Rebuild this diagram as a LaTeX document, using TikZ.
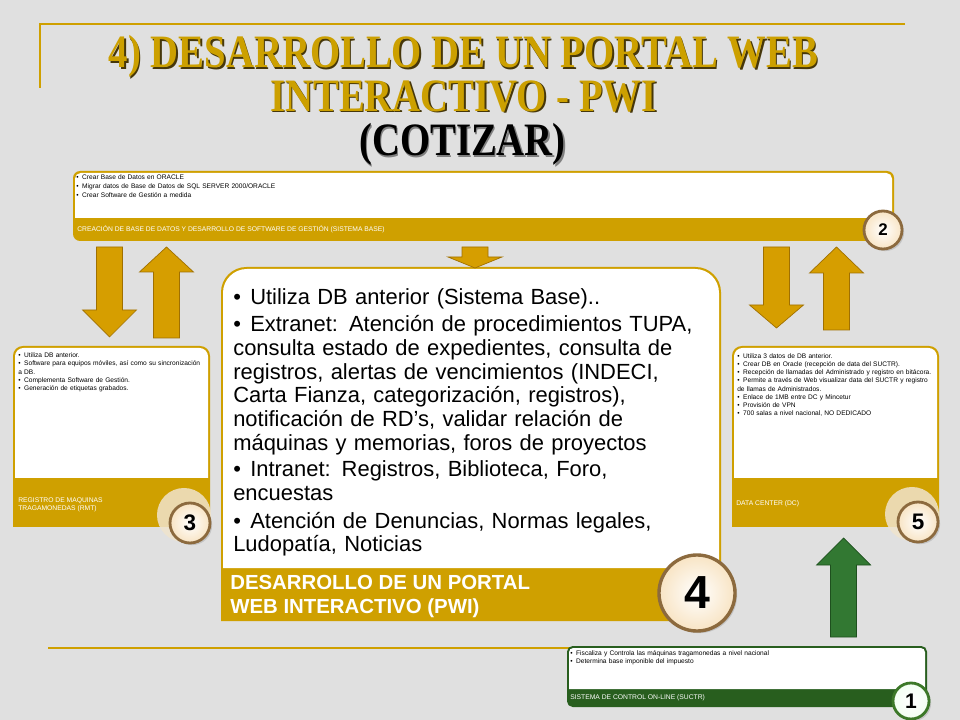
\documentclass[tikz,border=0pt]{standalone}
\usepackage{fontspec}
\setmainfont{Liberation Sans}
\newfontfamily\titlefont{Liberation Serif}
\usetikzlibrary{shadows}

\definecolor{bgray}{RGB}{224,224,224}
\definecolor{gold}{RGB}{207,160,0}
\definecolor{titlegold}{RGB}{204,160,0}
\definecolor{titleshadow}{RGB}{70,55,10}
\definecolor{ringbrown}{RGB}{140,106,62}
\definecolor{ringfill}{RGB}{248,228,196}
\definecolor{halofill}{RGB}{240,228,205}
\definecolor{darkgreen}{RGB}{40,94,30}
\definecolor{ringgreen}{RGB}{60,120,40}
\definecolor{arrowlight}{RGB}{252,204,20}
\definecolor{arrowdark}{RGB}{214,158,0}
\definecolor{arrowedge}{RGB}{160,112,0}
\definecolor{greenlight}{RGB}{96,180,90}
\definecolor{greendark}{RGB}{50,120,50}
\definecolor{greenedge}{RGB}{30,80,30}

\newlength\bulind
\newcommand{\pitem}[1]{\noindent\hangindent=\bulind\hangafter=1\makebox[\bulind][l]{\textbullet}#1\par}
\newcommand{\blockarrow}[5][]{%
  \draw[#1] (#2-13,#3) -- (#2-13,#4) -- (#2-27,#4) -- (#2,#5)
    -- (#2+27,#4) -- (#2+13,#4) -- (#2+13,#3) -- cycle;}

\begin{document}
\begin{tikzpicture}[x=0.025cm, y=-0.025cm,
  goldarrow/.style={left color=arrowdark, middle color=arrowlight, right color=arrowdark, draw=arrowedge, line width=0.5pt},
  greenarrow/.style={left color=greendark, middle color=greenlight, right color=greendark, draw=greenedge, line width=0.5pt},
  titletext/.style={anchor=base, inner sep=0pt, font=\titlefont\bfseries\fontsize{33}{40}\selectfont},
  bigitem/.style={anchor=base west, inner sep=0pt, text width=12cm, font=\fontsize{15.6}{16.8}\selectfont\setlength{\bulind}{12.1pt}},
  tinytext/.style={anchor=base west, inner sep=0pt, text width=9cm, font=\fontsize{4.7}{#1}\selectfont\setlength{\bulind}{4.2pt}},
  bandlabel/.style={anchor=base west, inner sep=0pt, align=left, text=white, font=\fontsize{4.8}{5.7}\selectfont},
  ring/.style={circle, draw=ringbrown, line width=2pt, inner sep=0pt, inner color=white, outer color=ringfill, font=\bfseries, drop shadow={opacity=0.3, shadow xshift=1.5pt, shadow yshift=-1.5pt}},
  halo/.style={circle, fill=halofill, opacity=0.85, inner sep=0pt},
]
\useasboundingbox (0,0) rectangle (960,720);
% background and frame lines
\fill[bgray] (0,0) rectangle (960,720);
\draw[gold, line width=1.4pt] (905,24) -- (40,24) -- (40,88);
\draw[gold, line width=1.4pt] (48,648) -- (570,648);

% title
\node[titletext, text=titleshadow] (t1s) at (465,69.5) {\scalebox{0.835}[1]{4) DESARROLLO DE UN PORTAL WEB}};
\node[titletext, text=titlegold] (t1) at (463.5,68) {\scalebox{0.835}[1]{4) DESARROLLO DE UN PORTAL WEB}};
\node[titletext, text=titleshadow] (t2s) at (465,113) {\scalebox{0.835}[1]{INTERACTIVO - PWI}};
\node[titletext, text=titlegold] (t2) at (463.5,111.5) {\scalebox{0.835}[1]{INTERACTIVO - PWI}};
\node[titletext, text=black!50] (t3s) at (464,157.5) {\scalebox{0.835}[1]{(COTIZAR)}};
\node[titletext, text=black] (t3) at (462.5,156) {\scalebox{0.835}[1]{(COTIZAR)}};

% box 2: sistema base
\fill[gold, rounded corners=5pt] (73,171) rectangle (894,241);
\fill[white] (75,218) [rounded corners=4pt] -- (75,173) -- (892,173) [sharp corners] -- (892,218) -- cycle;
\node[tinytext=6.4pt] (sb) at (76,179.5) {%
  \pitem{Crear Base de Datos en ORACLE}
  \pitem{Migrar datos de Base de Datos de SQL SERVER 2000/ORACLE}
  \pitem{Crear Software de Gestión a medida}};
\node[bandlabel] (sblab) at (77,232) {CREACIÓN DE BASE DE DATOS Y DESARROLLO DE SOFTWARE DE GESTIÓN (SISTEMA BASE)};
\node[ring, minimum size=0.95cm, font=\bfseries\fontsize{12}{12}\selectfont] (n2) at (883,230) {2};

% box 3: rmt
\fill[gold] (13,527) [rounded corners=7pt] -- (13,346) -- (210,346) [sharp corners] -- (210,527) -- cycle;
\fill[white] (15,478) [rounded corners=6pt] -- (15,348) -- (208,348) [sharp corners] -- (208,478) -- cycle;
\node[tinytext=5.9pt] (rmt) at (18,357.5) {%
  \pitem{Utiliza DB anterior.}
  \pitem{Software para equipos móviles, así como su sincronización\\a DB.}
  \pitem{Complementa Software de Gestión.}
  \pitem{Generación de etiquetas grabados.}};
\node[bandlabel] (rmtlab) at (18,511) {REGISTRO DE MAQUINAS\\TRAGAMONEDAS (RMT)};
\node[halo, minimum size=1.35cm] (h3) at (184,515) {};
\node[ring, minimum size=1.0cm, font=\bfseries\fontsize{16}{16}\selectfont] (n3) at (190,523) {3};

% box 5: data center
\fill[gold] (732,527) [rounded corners=7pt] -- (732,346) -- (939,346) [sharp corners] -- (939,527) -- cycle;
\fill[white] (734,478) [rounded corners=6pt] -- (734,348) -- (937,348) [sharp corners] -- (937,478) -- cycle;
\node[tinytext=5.8pt] (dc) at (737,358.5) {%
  \pitem{Utiliza 3 datos de DB anterior.}
  \pitem{Crear DB en Oracle (recepción de data del SUCTR).}
  \pitem{Recepción de llamadas del Administrado y registro en bitácora.}
  \pitem{Permite a través de Web visualizar data del SUCTR y registro\\de llamas de Administrados.}
  \pitem{Enlace de 1MB entre DC y Mincetur}
  \pitem{Provisión de VPN}
  \pitem{700 salas a nivel nacional, NO DEDICADO}};
\node[bandlabel] (dclab) at (736,505) {DATA CENTER (DC)};
\node[halo, minimum size=1.35cm] (h5) at (912,514) {};
\node[ring, minimum size=1.0cm, font=\bfseries\fontsize{16}{16}\selectfont] (n5) at (918,522) {5};

% box 4: portal web
\fill[gold] (221,621) [rounded corners=18pt] -- (221,267) -- (721,267) [sharp corners] -- (721,621) -- cycle;
\fill[white] (223,568) [rounded corners=17pt] -- (223,269) -- (719,269) [sharp corners] -- (719,568) -- cycle;
\node[bigitem] (i1) at (233,305) {\pitem{Utiliza DB anterior (Sistema Base)..}};
\node[bigitem] (i2) at (233,332) {\pitem{Extranet: Atención de procedimientos TUPA,\\
  consulta estado de expedientes, consulta de\\
  registros, alertas de vencimientos (INDECI,\\
  Carta Fianza, categorización, registros),\\
  notificación de RD’s, validar relación de\\
  máquinas y memorias, foros de proyectos}};
\node[bigitem] (i3) at (233,477) {\pitem{Intranet: Registros, Biblioteca, Foro,\\encuestas}};
\node[bigitem] (i4) at (233,528) {\pitem{Atención de Denuncias, Normas legales,\\Ludopatía, Noticias}};
\node[anchor=base west, inner sep=0pt, align=left, text=white, font=\bfseries\fontsize{14.5}{16.4}\selectfont] (pwilab) at (230,613) {DESARROLLO DE UN PORTAL\\WEB INTERACTIVO (PWI)};
\node[ring, minimum size=1.9cm, line width=2.4pt, font=\bfseries\fontsize{33}{33}\selectfont] (n4) at (697,593) {4};

% box 1: suctr
\fill[darkgreen, rounded corners=4pt] (567,646) rectangle (927,707);
\fill[white] (569,689) [rounded corners=3pt] -- (569,648) -- (925,648) [sharp corners] -- (925,689) -- cycle;
\node[tinytext=5.7pt] (sc) at (570,655) {%
  \pitem{Fiscaliza y Controla las máquinas tragamonedas a nivel nacional}
  \pitem{Determina base imponible del impuesto}};
\node[bandlabel] (sclab) at (570,699.5) {SISTEMA DE CONTROL ON-LINE (SUCTR)};
\node[ring, draw=ringgreen, outer color=green!5!white, minimum size=0.9cm, font=\bfseries\fontsize{15}{15}\selectfont] (n1) at (911,701) {1};

% block arrows
\blockarrow[goldarrow]{109.5}{247}{310}{337}
\blockarrow[goldarrow]{166.5}{338}{272}{247}
\blockarrow[goldarrow]{475}{247}{257}{268}
\blockarrow[goldarrow]{776.5}{247}{305}{328}
\blockarrow[goldarrow]{836.5}{330}{273}{247}
\blockarrow[greenarrow]{843.5}{637}{565}{538}
\end{tikzpicture}
\end{document}
